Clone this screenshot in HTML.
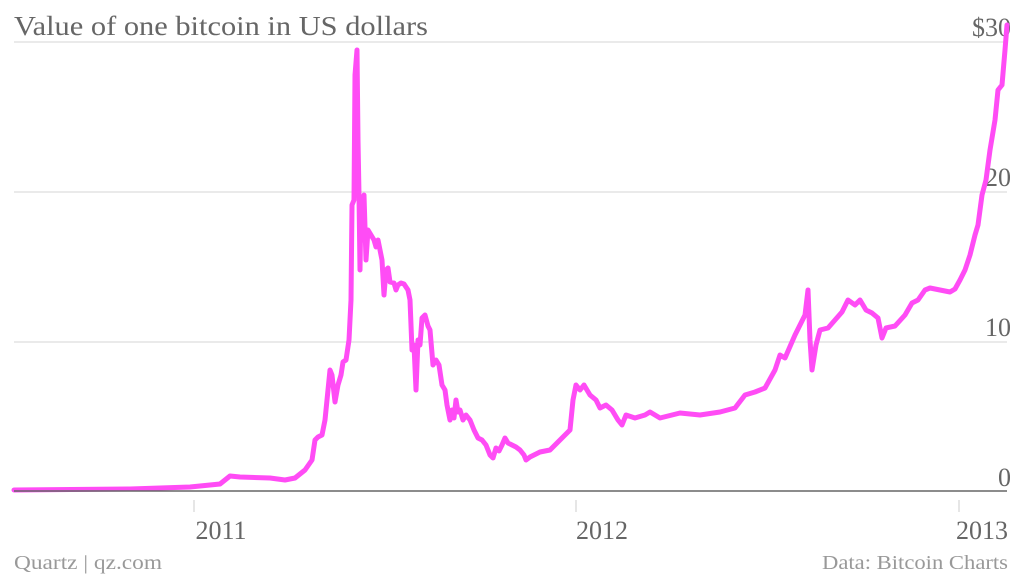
<!DOCTYPE html>
<html><head><meta charset="utf-8"><style>
html,body{margin:0;padding:0;background:#fff;width:1024px;height:577px;overflow:hidden}
</style></head><body>
<svg width="1024" height="577" viewBox="0 0 1024 577" xmlns="http://www.w3.org/2000/svg" font-family="'Liberation Serif', serif">
<text x="14" y="35" font-size="27" fill="#666" textLength="414" lengthAdjust="spacingAndGlyphs">Value of one bitcoin in US dollars</text>
<g stroke="#e3e3e3" stroke-width="1.5">
<line x1="14" y1="42" x2="1007" y2="42"/>
<line x1="14" y1="192" x2="1007" y2="192"/>
<line x1="14" y1="342" x2="1007" y2="342"/>
</g>
<g fill="#666" font-size="26" text-anchor="end">
<text x="1011" y="36">$30</text>
<text x="1011" y="186">20</text>
<text x="1011" y="336">10</text>
<text x="1011" y="486">0</text>
</g>
<polyline fill="none" stroke="#ff4cf5" stroke-width="5" stroke-linejoin="round" stroke-linecap="round" points="14,490 130,489 190,487 220,484 230,476 240,477 270,478 285,480 295,478 305,470 312,460 315,440 318,437 322,435 325,420 328,390 330,370 332,375 335,402 338,385 341,375 343,362 346,360 349,340 351,300 352,205 354,200 355,75 357,50 358,140 359,195 360,270 361,200 363,240 364,195 366,260 368,230 371,235 374,240 376,247 378,240 380,250 382,260 384,295 386,270 388,268 390,282 394,283 396,290 398,285 401,283 404,284 408,290 410,300 412,350 414,345 416,390 418,340 420,345 422,318 425,315 428,326 430,330 433,365 436,360 439,365 442,385 445,390 447,405 450,420 452,410 454,418 456,400 458,412 460,410 463,420 466,415 470,420 474,430 478,438 482,440 486,445 490,455 493,458 496,448 499,451 502,445 505,438 508,443 512,445 516,447 520,450 524,455 526,460 530,457 540,452 550,450 560,440 570,430 573,400 576,385 580,390 584,385 590,395 596,400 600,408 606,405 612,410 618,420 622,425 626,415 635,418 645,415 650,412 660,418 680,413 700,415 720,412 735,408 745,395 755,392 765,388 775,370 780,355 785,358 795,335 800,325 805,315 808,290 810,340 812,370 816,345 820,330 828,328 835,320 842,312 848,300 855,305 860,300 866,310 872,313 878,318 882,338 886,328 895,326 905,315 912,303 918,300 925,290 930,288 940,290 950,292 955,289 960,280 965,270 970,255 975,235 978,225 982,195 986,180 990,150 995,120 998,90 1002,85 1005,50 1007,25"/>
<line x1="14" y1="491" x2="1007" y2="491" stroke="#666" stroke-width="1.5"/>
<g stroke="#ddd" stroke-width="1.5">
<line x1="194" y1="500" x2="194" y2="512"/>
<line x1="576" y1="500" x2="576" y2="512"/>
<line x1="959" y1="500" x2="959" y2="512"/>
</g>
<g fill="#666" font-size="26" text-anchor="middle">
<text x="221" y="539">2011</text>
<text x="602" y="539">2012</text>
<text x="982" y="539">2013</text>
</g>
<text x="14" y="569" font-size="20" fill="#999" textLength="148" lengthAdjust="spacingAndGlyphs">Quartz | qz.com</text>
<text x="822" y="569" font-size="20" fill="#999" textLength="186" lengthAdjust="spacingAndGlyphs">Data: Bitcoin Charts</text>
</svg>
</body></html>
